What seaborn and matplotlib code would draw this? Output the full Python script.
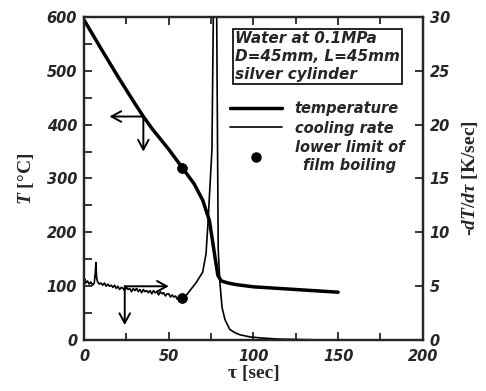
import matplotlib
matplotlib.use("Agg")
import matplotlib.pyplot as plt
import seaborn as sns
import pandas as pd
from matplotlib.lines import Line2D
from matplotlib.font_manager import FontProperties

# ---- data ----
temp_time = [0, 10, 20, 30, 35, 40, 50, 58, 65, 70, 74, 77, 79, 81, 85, 90, 100, 120, 150]
temp_vals = [594, 541, 489, 439, 415, 393, 354, 320, 290, 260, 222, 160, 120, 110, 106, 103, 99, 95, 89]

rate_time = [0, 0.3, 1, 2, 3, 4, 5, 6, 6.6, 7, 7.4, 8, 9, 10, 11, 12, 13, 14, 15, 16, 17, 18, 19,
             20, 21, 22, 23, 24, 25, 26, 27, 28, 29, 30, 31, 32, 33, 34, 35, 36, 37, 38, 39,
             40, 41, 42, 43, 44, 45, 46, 47, 48, 49, 50, 51, 52, 53, 54, 55, 56, 57, 58, 60,
             62, 64, 66, 68, 70, 72, 73.2, 75.5, 76.3, 77.3, 78.3, 79.2, 80.2, 81.5, 83.2, 86,
             89, 92, 98, 105, 115, 130, 150]
rate_vals = [4.9, 5.7, 5.3, 5.5, 5.2, 5.4, 5.1, 5.3, 6.2, 7.2, 5.8, 5.4, 5.2, 5.3, 5.1, 5.3, 5.0,
             5.2, 5.0, 5.1, 4.9, 5.1, 4.8, 5.0, 4.7, 4.9, 4.8, 4.6, 4.9, 4.7, 4.8, 4.5, 4.8, 4.6,
             4.8, 4.5, 4.7, 4.4, 4.7, 4.5, 4.6, 4.4, 4.6, 4.3, 4.6, 4.4, 4.5, 4.2, 4.5, 4.3, 4.4,
             4.1, 4.3, 4.3, 4.0, 4.2, 4.0, 4.1, 3.8, 4.0, 3.8, 3.9, 4.1, 4.5, 4.9, 5.3, 5.8, 6.3,
             8.0, 11.0, 17.7, 30, 36, 30, 8.4, 5.3, 3.0, 1.9, 1.0, 0.7, 0.5, 0.3, 0.2, 0.1, 0.05,
             0.0]

limit_time = [58]
limit_temp = [320]
limit_rate = [3.9]

box_text = "Water at 0.1MPa\nD=45mm, L=45mm\nsilver cylinder"
legend_labels = ["temperature", "cooling rate", "lower limit of\nfilm boiling"]

# ---- style ----
sns.set_style("ticks")
plt.rcParams["font.family"] = ["DejaVu Sans"]
plt.rcParams["mathtext.fontset"] = "custom"
plt.rcParams["mathtext.it"] = "Liberation Serif:italic:bold"
plt.rcParams["mathtext.rm"] = "Liberation Serif:bold"
plt.rcParams["axes.unicode_minus"] = False

tickfont = FontProperties(family="DejaVu Sans", weight="bold", style="oblique", size=10.5)
boxfont = dict(family="DejaVu Sans", weight="bold", style="oblique", size=11)
legfont = dict(family="DejaVu Sans", weight="bold", style="oblique", size=10.5)

fig = plt.figure(figsize=(4.86, 3.91), dpi=100)
ax = fig.add_axes([0.173, 0.130, 0.697, 0.827])
ax2 = ax.twinx()

df_t = pd.DataFrame({"t": temp_time, "T": temp_vals})
df_r = pd.DataFrame({"t": rate_time, "r": rate_vals})

sns.lineplot(data=df_t, x="t", y="T", ax=ax, color="black", lw=2.5, sort=False)
sns.lineplot(data=df_r, x="t", y="r", ax=ax2, color="black", lw=1.2, sort=False)
sns.scatterplot(x=limit_time, y=limit_temp, ax=ax, color="black", s=50, edgecolor="black", zorder=5)
sns.scatterplot(x=limit_time, y=limit_rate, ax=ax2, color="black", s=50, edgecolor="black", zorder=5)

ax.set_xlim(0, 200)
ax.set_ylim(0, 600)
ax2.set_ylim(0, 30)

ax.set_xticks([0, 50, 100, 150, 200])
ax.set_xticks([25, 75, 125, 175], minor=True)
ax.set_yticks([0, 100, 200, 300, 400, 500, 600])
ax.set_yticks([50, 150, 250, 350, 450, 550], minor=True)
ax2.set_yticks([0, 5, 10, 15, 20, 25, 30])

ax.tick_params(axis="x", which="both", direction="in", top=True, bottom=True, width=1.3)
ax.tick_params(axis="x", which="major", length=6, pad=6)
ax.tick_params(axis="x", which="minor", length=5)
ax.tick_params(axis="y", which="both", direction="in", left=True, right=False, width=1.3, length=6, pad=5)
ax2.tick_params(axis="y", which="both", direction="in", right=True, width=1.3, length=6, pad=5)

for lab in ax.get_xticklabels() + ax.get_yticklabels() + ax2.get_yticklabels():
    lab.set_fontproperties(tickfont)

for a in (ax, ax2):
    for sp in a.spines.values():
        sp.set_linewidth(1.6)
        sp.set_visible(True)

ax.set_xlabel("τ [sec]", family="Liberation Serif", weight="bold", size=14, labelpad=1)
ax.set_ylabel(r"$\mathit{T}$ [°C]", family="Liberation Serif", weight="bold", size=14, labelpad=8)
ax2.set_ylabel(r"-$\mathit{dT/dτ}$ [K/sec]", family="Liberation Serif", weight="bold", size=14,
               rotation=90, labelpad=7)

# annotation box
ax2.text(0.445, 0.957, box_text, transform=ax.transAxes, ha="left", va="top",
         linespacing=1.25, bbox=dict(boxstyle="square,pad=0.12", fc="white", ec="black", lw=1.2),
         **boxfont)

# legend
handles = [Line2D([], [], color="black", lw=2.5),
           Line2D([], [], color="black", lw=1.2),
           Line2D([], [], color="black", marker="o", ls="none", markersize=6.5)]
leg = ax2.legend(handles, legend_labels, loc="upper left", bbox_to_anchor=(0.43, 0.74),
                 frameon=False, handlelength=3.6, handletextpad=0.85, labelspacing=0.32,
                 borderpad=0, borderaxespad=0, prop=legfont)
for t in leg.get_texts():
    t.set_multialignment("center")
    t.set_linespacing(1.2)

# arrows
ap = dict(arrowstyle="->,head_length=0.7,head_width=0.38", color="black", lw=1.4, shrinkA=0, shrinkB=0)
ax.annotate("", xy=(15, 415), xytext=(35, 415), arrowprops=ap)
ax.annotate("", xy=(35, 350), xytext=(35, 415), arrowprops=ap)
ax.annotate("", xy=(50, 100), xytext=(24, 100), arrowprops=ap)
ax.annotate("", xy=(24, 28), xytext=(24, 100), arrowprops=ap)

fig.savefig("out.png", dpi=100)
